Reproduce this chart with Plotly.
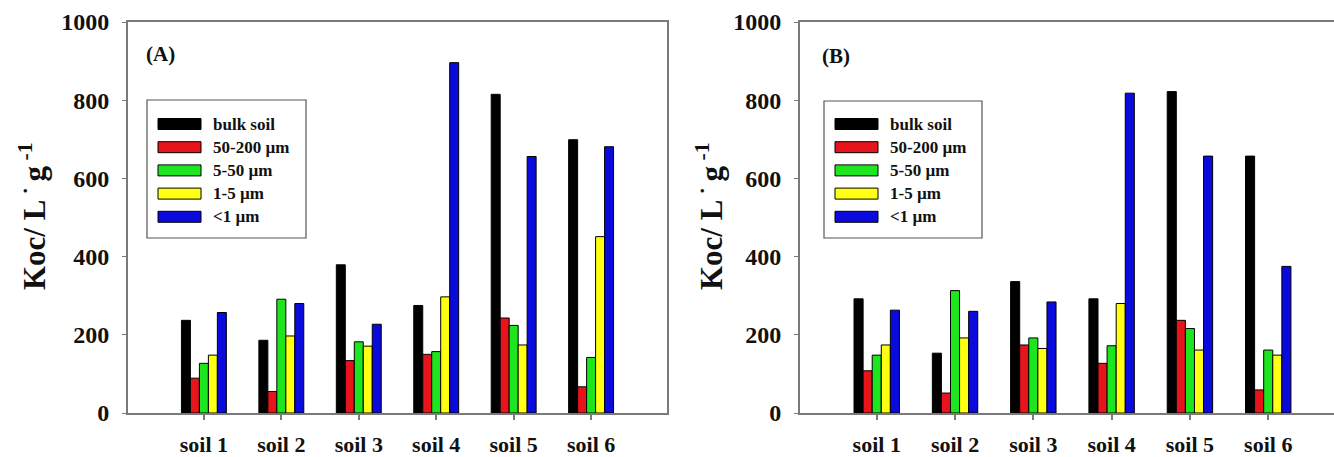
import plotly.graph_objects as go

# ---------------- data ----------------
soils = ["soil 1", "soil 2", "soil 3", "soil 4", "soil 5", "soil 6"]
series_names = ["bulk soil", "50-200 µm", "5-50 µm", "1-5 µm", "&lt;1 µm"]

a_bulk = [237, 186, 379, 275, 815, 699]
a_50_200 = [89, 55, 134, 150, 243, 67]
a_5_50 = [127, 291, 182, 157, 224, 142]
a_1_5 = [148, 197, 171, 297, 174, 451]
a_lt1 = [257, 280, 227, 896, 656, 681]

b_bulk = [292, 153, 336, 292, 822, 657]
b_50_200 = [108, 51, 174, 127, 237, 59]
b_5_50 = [148, 313, 192, 172, 216, 161]
b_1_5 = [174, 192, 165, 280, 161, 148]
b_lt1 = [263, 260, 284, 818, 657, 375]

y_ticks = [0, 200, 400, 600, 800, 1000]
panel_labels = ["(A)", "(B)"]
y_title = "Koc/ L<sup>&nbsp;·&nbsp;</sup>g<sup>&nbsp;-1</sup>"

# ---------------- styling ----------------
colors = ["#000000", "#e8141c", "#1ee61e", "#ffff14", "#0a0adc"]
W, H = 1334, 457
T, B = 22, 44
FONT = "Liberation Serif"
AXC = "#7a7a7a"

panels = [
    dict(data=[a_bulk, a_50_200, a_5_50, a_1_5, a_lt1], dom=(128, 667), rng=[-0.98, 5.98],
         xa="x", ya="y", leg=(147, 306, 100, 238), lab=(160, 54), ytitle_x=32),
    dict(data=[b_bulk, b_50_200, b_5_50, b_1_5, b_lt1], dom=(800, 1334), rng=[-0.98, 5.84],
         xa="x2", ya="y2", leg=(824, 982, 101, 238), lab=(836, 56), ytitle_x=709),
]

def px(x):
    return x / W

def py(y):
    # paper coordinates span the plotting area inside the margins
    return (H - B - y) / (H - T - B)

fig = go.Figure()
shapes = []
annotations = []

for pi, p in enumerate(panels):
    for si, vals in enumerate(p["data"]):
        fig.add_trace(go.Bar(
            x=list(range(len(soils))), y=vals, name=series_names[si],
            marker=dict(color=colors[si], line=dict(color="#000000", width=1)),
            xaxis=p["xa"], yaxis=p["ya"], showlegend=False,
        ))
    # custom legend box
    x0, x1, y0, y1 = p["leg"]
    shapes.append(dict(type="rect", xref="paper", yref="paper",
                       x0=px(x0), x1=px(x1), y0=py(y1), y1=py(y0),
                       line=dict(color="#555555", width=1.2), fillcolor="white", layer="above"))
    for si, name in enumerate(series_names):
        cy = 124 + si * 23.2
        sx0 = x0 + 11
        sx1 = sx0 + 43
        shapes.append(dict(type="rect", xref="paper", yref="paper",
                           x0=px(sx0), x1=px(sx1), y0=py(cy + 5.5), y1=py(cy - 5.5),
                           line=dict(color="#000000", width=1), fillcolor=colors[si], layer="above"))
        annotations.append(dict(text="<b>" + name + "</b>", xref="paper", yref="paper",
                                x=px(sx1 + 10), y=py(cy), xanchor="left", yanchor="middle",
                                showarrow=False, font=dict(family=FONT, size=17, color="#111111")))
    # panel label
    annotations.append(dict(text="<b>" + panel_labels[pi] + "</b>", xref="paper", yref="paper",
                            x=px(p["lab"][0]), y=py(p["lab"][1]), xanchor="center", yanchor="middle",
                            showarrow=False, font=dict(family=FONT, size=21, color="#111111")))
    # y title
    annotations.append(dict(text="<b>" + y_title + "</b>", xref="paper", yref="paper",
                            x=px(p["ytitle_x"]), y=py(216), xanchor="center", yanchor="middle",
                            textangle=-90, showarrow=False,
                            font=dict(family=FONT, size=31, color="#111111")))

def xaxis(p, anchor):
    return dict(domain=[px(p["dom"][0]), px(p["dom"][1])], range=p["rng"], anchor=anchor,
                automargin=False,
                tickmode="array", tickvals=list(range(len(soils))),
                ticktext=["<b>" + s + "</b>" for s in soils],
                ticks="outside", ticklen=5, tickcolor=AXC, tickwidth=1.5,
                ticklabelstandoff=6,
                showline=True, linecolor=AXC, linewidth=1.8, mirror=True,
                showgrid=False, zeroline=False,
                tickfont=dict(family=FONT, size=22, color="#111111"))

def yaxis(anchor):
    return dict(domain=[0, 1], range=[0, 1000], anchor=anchor,
                automargin=False,
                tickmode="array", tickvals=y_ticks,
                ticktext=["<b>%d</b>" % v for v in y_ticks],
                ticks="outside", ticklen=4, tickcolor=AXC, tickwidth=1.2,
                ticklabelstandoff=8,
                showline=True, linecolor=AXC, linewidth=1.8, mirror=True,
                showgrid=False, zeroline=False,
                tickfont=dict(family=FONT, size=24, color="#111111"))

fig.update_layout(
    width=W, height=H,
    margin=dict(l=0, r=0, t=T, b=B),
    paper_bgcolor="white", plot_bgcolor="white",
    barmode="group", bargap=0.42, bargroupgap=0,
    xaxis=xaxis(panels[0], "y"), yaxis=yaxis("x"),
    xaxis2=xaxis(panels[1], "y2"), yaxis2=yaxis("x2"),
    shapes=shapes, annotations=annotations,
    showlegend=False,
)

fig.write_html("out.html", config={"displayModeBar": False},
               post_script="document.body.style.margin='0';document.body.style.padding='0';")
